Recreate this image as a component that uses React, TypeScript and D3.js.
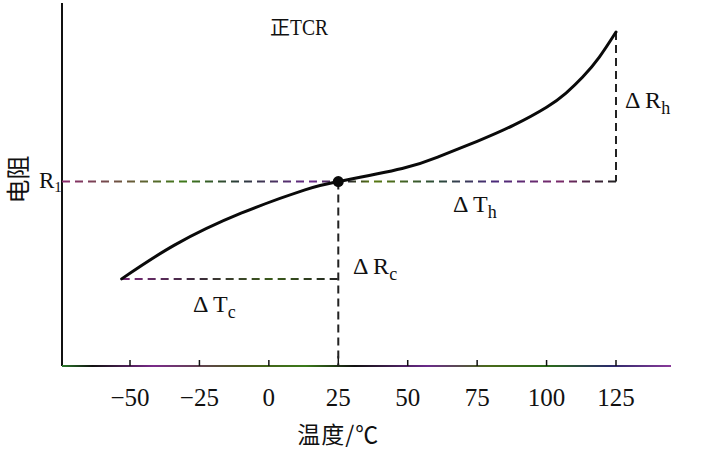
import React from 'react';
import * as d3 from 'd3';

// curve: temperature (°C) vs resistance (relative units)
const temps = [-53, -34, -10, 13, 25, 48, 61, 75, 88, 100, 107, 113, 119, 125];
const resistance = [24, 33.3, 42.1, 48.5, 50.8, 54.4, 57.6, 61.9, 66.3, 71.3, 75.2, 79.6, 85.1, 92];
const xTicks = [-50, -25, 0, 25, 50, 75, 100, 125];
const refTemp = 25;

const W = 702;
const H = 452;
const serif = "'Liberation Serif', 'DejaVu Serif', serif";
const cjk = "'Noto Sans CJK SC', sans-serif";

const App = () => {
  const axisX = 62;
  const axisY = 366;
  const axisTop = 3;
  const axisRight = 671;

  const x = d3.scaleLinear().domain([-50, 125]).range([130, 616]);
  const y = d3.scaleLinear().domain([0, 100]).range([axisY, axisTop]);

  const pts = temps.map((t, i) => [t, resistance[i]] as [number, number]);
  const line = d3.line<[number, number]>()
    .x(d => x(d[0]))
    .y(d => y(d[1]))
    .curve(d3.curveNatural);

  const first = pts[0];
  const last = pts[pts.length - 1];
  const ref = pts[temps.indexOf(refTemp)];

  const dash = '8,5';

  return (
    <svg width={W} height={H} style={{ position: 'absolute', left: 0, top: 0, background: '#fff' }}>
      <defs>
        <linearGradient id="gR1" gradientUnits="userSpaceOnUse" x1={axisX} x2={x(125)} y1={0} y2={0}>
          <stop offset="0" stopColor="#8a2a6e" />
          <stop offset="0.12" stopColor="#6a5a3a" />
          <stop offset="0.22" stopColor="#3f7a1a" />
          <stop offset="0.32" stopColor="#2a3a3a" />
          <stop offset="0.45" stopColor="#6a2a8a" />
          <stop offset="0.52" stopColor="#2a2a2a" />
          <stop offset="0.56" stopColor="#5a7a10" />
          <stop offset="0.68" stopColor="#2a4a3a" />
          <stop offset="0.78" stopColor="#4a2a7a" />
          <stop offset="0.9" stopColor="#7a2a6a" />
          <stop offset="1" stopColor="#222" />
        </linearGradient>
        <linearGradient id="gTc" gradientUnits="userSpaceOnUse" x1={x(first[0])} x2={x(refTemp)} y1={0} y2={0}>
          <stop offset="0" stopColor="#7a2a7a" />
          <stop offset="0.35" stopColor="#3a2a3a" />
          <stop offset="0.7" stopColor="#3a5a1a" />
          <stop offset="1" stopColor="#222" />
        </linearGradient>
        <linearGradient id="gAxis" gradientUnits="userSpaceOnUse" x1={axisX} x2={axisRight} y1={0} y2={0}>
          <stop offset="0" stopColor="#2a7a2a" />
          <stop offset="0.05" stopColor="#111" />
          <stop offset="0.15" stopColor="#7a2a8a" />
          <stop offset="0.3" stopColor="#4a5a1a" />
          <stop offset="0.4" stopColor="#3a7a1a" />
          <stop offset="0.48" stopColor="#111" />
          <stop offset="0.6" stopColor="#6a2a8a" />
          <stop offset="0.7" stopColor="#4a6a1a" />
          <stop offset="0.8" stopColor="#2a6a1a" />
          <stop offset="0.9" stopColor="#2a2a6a" />
          <stop offset="1" stopColor="#8a3a9a" />
        </linearGradient>
      </defs>

      {/* axes */}
      <line x1={axisX} x2={axisX} y1={axisTop} y2={axisY} stroke="#111" strokeWidth={2} />
      <line x1={axisX} x2={axisRight} y1={axisY} y2={axisY} stroke="url(#gAxis)" strokeWidth={2.2} />
      {xTicks.map(t => (
        <g key={t}>
          <line x1={x(t)} x2={x(t)} y1={axisY} y2={axisY - (t === refTemp ? 10 : 6)} stroke="#111" strokeWidth={1.5} />
          <text x={x(t)} y={axisY + 40} textAnchor="middle" fontFamily={serif} fontSize={25} fill="#111">
            {t < 0 ? `\u2212${-t}` : t}
          </text>
        </g>
      ))}

      {/* reference lines */}
      <line x1={axisX} x2={x(last[0])} y1={y(ref[1])} y2={y(ref[1])} stroke="url(#gR1)" strokeWidth={2} strokeDasharray={dash} />
      <line x1={x(first[0])} x2={x(refTemp)} y1={y(first[1])} y2={y(first[1])} stroke="url(#gTc)" strokeWidth={2} strokeDasharray={dash} />
      <line x1={x(refTemp)} x2={x(refTemp)} y1={y(ref[1])} y2={axisY} stroke="#222" strokeWidth={2} strokeDasharray={dash} />
      <line x1={x(last[0])} x2={x(last[0])} y1={y(last[1])} y2={y(ref[1])} stroke="#222" strokeWidth={2} strokeDasharray={dash} />

      {/* curve */}
      <path d={line(pts) || ''} fill="none" stroke="#0a0a0a" strokeWidth={3} strokeLinecap="round" />
      <circle cx={x(ref[0])} cy={y(ref[1])} r={5.5} fill="#0a0a0a" />

      {/* labels */}
      <text x={270} y={35} fontFamily={cjk} fontSize={20} fill="#111">正</text>
      <text transform="translate(290, 35) scale(0.85, 1)" fontFamily={serif} fontSize={23} fill="#111">TCR</text>
      <text x={39} y={y(ref[1]) + 6} fontFamily={serif} fontSize={23} fill="#111">
        R<tspan fontSize={15} dy={4}>1</tspan>
      </text>
      <text transform={`translate(27, ${y(ref[1]) - 2}) rotate(-90)`} textAnchor="middle" fontFamily={cjk} fontSize={24} fill="#111">
        电阻
      </text>
      <text x={x(last[0]) + 9} y={108} fontFamily={serif} fontSize={24} fill="#111">
        Δ R<tspan fontSize={18} dy={6}>h</tspan>
      </text>
      <text x={453} y={212} fontFamily={serif} fontSize={24} fill="#111">
        Δ T<tspan fontSize={18} dy={6}>h</tspan>
      </text>
      <text x={193} y={312} fontFamily={serif} fontSize={24} fill="#111">
        Δ T<tspan fontSize={18} dy={6}>c</tspan>
      </text>
      <text x={353} y={274} fontFamily={serif} fontSize={24} fill="#111">
        Δ R<tspan fontSize={18} dy={6}>c</tspan>
      </text>
      <text x={x(refTemp)} y={443} textAnchor="middle" fontFamily={cjk} fontSize={23} letterSpacing={1} fill="#111">
        温度/℃
      </text>
    </svg>
  );
};

export default App;
